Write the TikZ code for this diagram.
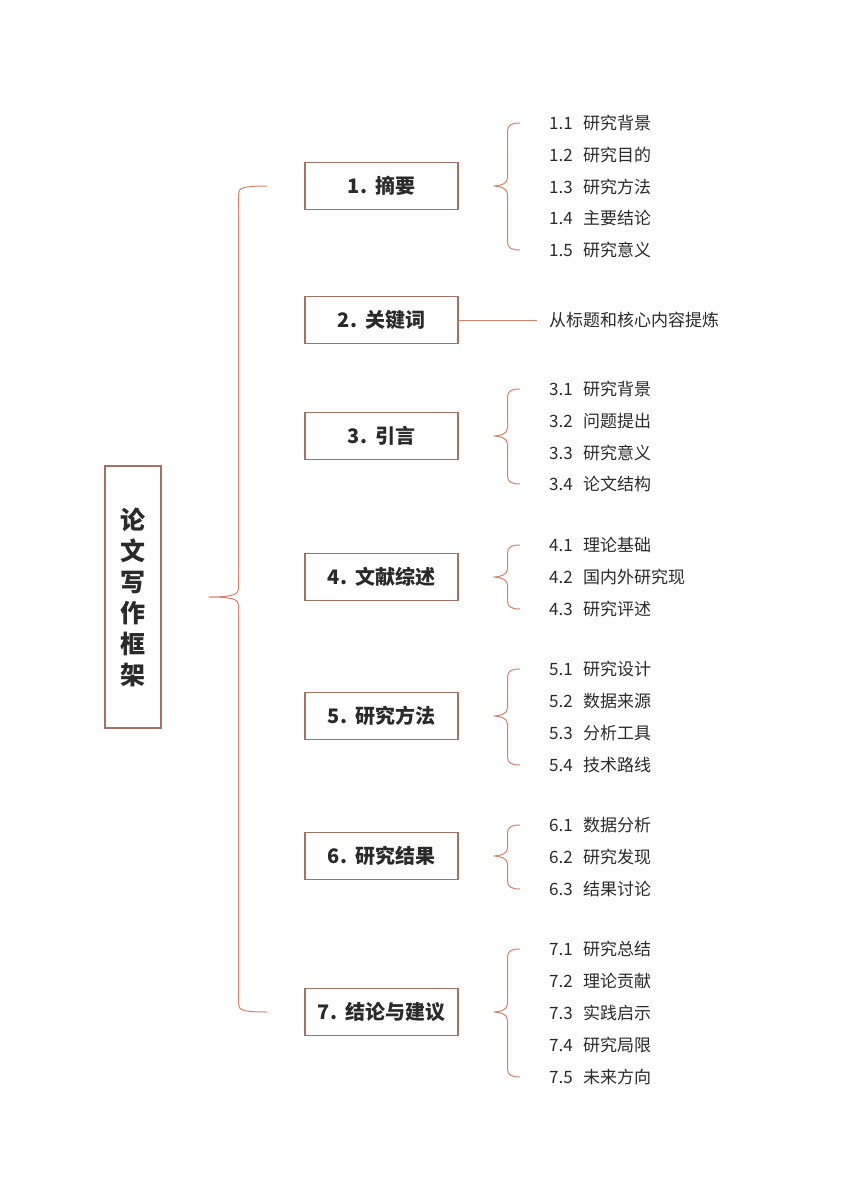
\documentclass[tikz,border=0pt]{standalone}
\usepackage{fontspec}
\setmainfont{Noto Sans CJK SC}
\usetikzlibrary{calc}
\definecolor{txt}{HTML}{2A2A2A}
\definecolor{boxc}{HTML}{A47264}
\definecolor{brcc}{HTML}{D9826A}
% #1 source, #2 first target, #3 last target, #4 tip shift, #5 arm, #6 end shift
\newcommand{\brc}[6]{%
  \draw[brc] let \p1=([xshift=#4]#1.east), \p2=([xshift=#6]#2.west), \p3=([xshift=#6]#3.west) in
    (\x2,\y2) .. controls (\x1+#5+4pt,\y2) and (\x1+#5,\y2-2pt) .. (\x1+#5,\y2-8pt)
    -- (\x1+#5,\y1+8pt) .. controls (\x1+#5,\y1+2pt) and (\x1+#5-8pt,\y1) .. (\x1,\y1)
    .. controls (\x1+#5-8pt,\y1) and (\x1+#5,\y1-2pt) .. (\x1+#5,\y1-8pt)
    -- (\x1+#5,\y3+8pt) .. controls (\x1+#5,\y3+2pt) and (\x1+#5+4pt,\y3) .. (\x3,\y3);}
\begin{document}
\begin{tikzpicture}[x=1pt,y=-1pt,
  hbox/.style={draw=boxc,line width=1.1pt,minimum width=153pt,minimum height=47pt,
    text=txt,font=\bfseries\fontsize{20}{24}\selectfont},
  item/.style={anchor=west,inner sep=3pt,text=txt,font=\fontsize{17}{20}\selectfont},
  brc/.style={draw=brcc,line width=1pt}]
\useasboundingbox (0,0) rectangle (848,1200);
\node[draw=boxc,line width=1.1pt,minimum width=56pt,minimum height=262pt,align=center,
  text=txt,font=\bfseries\fontsize{25}{31}\selectfont] (root) at (133,597) {论\\文\\写\\作\\框\\架};
% headings
\node[hbox] (h1) at (381.5,186) {1.\hspace{0.4em}摘要};
\node[hbox] (h2) at (381.5,320) {2.\hspace{0.4em}关键词};
\node[hbox] (h3) at (381.5,436) {3.\hspace{0.4em}引言};
\node[hbox] (h4) at (381.5,577) {4.\hspace{0.4em}文献综述};
\node[hbox] (h5) at (381.5,716) {5.\hspace{0.4em}研究方法};
\node[hbox] (h6) at (381.5,856) {6.\hspace{0.4em}研究结果};
\node[hbox] (h7) at (381.5,1012) {7.\hspace{0.4em}结论与建议};
% items
\node[item] (a11) at (546,123) {1.1\hspace{0.6em}研究背景};
\node[item] (a12) at (546,155) {1.2\hspace{0.6em}研究目的};
\node[item] (a13) at (546,187) {1.3\hspace{0.6em}研究方法};
\node[item] (a14) at (546,218) {1.4\hspace{0.6em}主要结论};
\node[item] (a15) at (546,250) {1.5\hspace{0.6em}研究意义};
\node[item] (k2) at (546,320) {从标题和核心内容提炼};
\node[item] (a31) at (546,389) {3.1\hspace{0.6em}研究背景};
\node[item] (a32) at (546,421) {3.2\hspace{0.6em}问题提出};
\node[item] (a33) at (546,453) {3.3\hspace{0.6em}研究意义};
\node[item] (a34) at (546,484) {3.4\hspace{0.6em}论文结构};
\node[item] (a41) at (546,545) {4.1\hspace{0.6em}理论基础};
\node[item] (a42) at (546,577) {4.2\hspace{0.6em}国内外研究现};
\node[item] (a43) at (546,609) {4.3\hspace{0.6em}研究评述};
\node[item] (a51) at (546,669) {5.1\hspace{0.6em}研究设计};
\node[item] (a52) at (546,701) {5.2\hspace{0.6em}数据来源};
\node[item] (a53) at (546,733) {5.3\hspace{0.6em}分析工具};
\node[item] (a54) at (546,765) {5.4\hspace{0.6em}技术路线};
\node[item] (a61) at (546,825) {6.1\hspace{0.6em}数据分析};
\node[item] (a62) at (546,857) {6.2\hspace{0.6em}研究发现};
\node[item] (a63) at (546,889) {6.3\hspace{0.6em}结果讨论};
\node[item] (a71) at (546,949) {7.1\hspace{0.6em}研究总结};
\node[item] (a72) at (546,981) {7.2\hspace{0.6em}理论贡献};
\node[item] (a73) at (546,1013) {7.3\hspace{0.6em}实践启示};
\node[item] (a74) at (546,1045) {7.4\hspace{0.6em}研究局限};
\node[item] (a75) at (546,1077) {7.5\hspace{0.6em}未来方向};
% braces
\brc{root}{h1}{h7}{47pt}{30pt}{-37pt}
\brc{h1}{a11}{a15}{35pt}{14pt}{-26pt}
\draw[brc] (h2.east) -- ([xshift=-9pt]k2.west);
\brc{h3}{a31}{a34}{35pt}{14pt}{-26pt}
\brc{h4}{a41}{a43}{35pt}{14pt}{-26pt}
\brc{h5}{a51}{a54}{35pt}{14pt}{-26pt}
\brc{h6}{a61}{a63}{35pt}{14pt}{-26pt}
\brc{h7}{a71}{a75}{35pt}{14pt}{-26pt}
\end{tikzpicture}
\end{document}
